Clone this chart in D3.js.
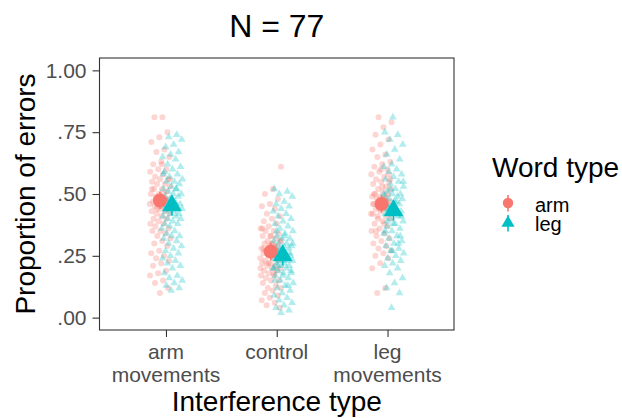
<!DOCTYPE html>
<html><head><meta charset="utf-8">
<script src="https://cdn.jsdelivr.net/npm/d3@7"></script>
<style>body{margin:0;background:#fff;} svg{display:block;} text{font-family:"Liberation Sans",Arial,sans-serif;}</style>
</head><body>
<svg id="chart" width="622" height="418"></svg>
<script>
// ---- data ----
const categories = ["arm movements", "control", "leg movements"];
const tickLabels = [["arm", "movements"], ["control"], ["leg", "movements"]];
const wordTypes = ["arm", "leg"];
const yTicks = [0, 0.25, 0.5, 0.75, 1];
const yTickLabels = [".00", ".25", ".50", ".75", "1.00"];

// individual participant proportions (77 per cell)
const armMov_arm = [0.81,0.81,0.75,0.73,0.71,0.68,0.67,0.65,0.63,0.62,0.60,0.60,0.59,0.58,0.57,0.56,0.56,0.55,0.54,0.54,0.53,0.52,0.52,0.51,0.50,0.50,0.50,0.49,0.48,0.48,0.47,0.47,0.46,0.46,0.45,0.45,0.44,0.44,0.43,0.43,0.42,0.42,0.41,0.40,0.40,0.39,0.38,0.38,0.37,0.36,0.35,0.35,0.34,0.33,0.32,0.31,0.30,0.29,0.27,0.26,0.25,0.24,0.23,0.22,0.21,0.19,0.18,0.17,0.15,0.14,0.12,0.10,0.52,0.48,0.44,0.56,0.62];
const armMov_leg = [0.74,0.73,0.72,0.70,0.69,0.67,0.66,0.65,0.64,0.62,0.61,0.60,0.59,0.58,0.57,0.56,0.55,0.55,0.54,0.53,0.52,0.52,0.51,0.50,0.50,0.49,0.49,0.48,0.48,0.47,0.47,0.46,0.46,0.45,0.45,0.44,0.44,0.43,0.43,0.42,0.42,0.41,0.41,0.40,0.40,0.39,0.38,0.38,0.37,0.36,0.35,0.34,0.33,0.33,0.32,0.31,0.30,0.29,0.28,0.27,0.26,0.25,0.24,0.23,0.22,0.21,0.20,0.18,0.17,0.16,0.15,0.14,0.13,0.12,0.11,0.58,0.52];
const control_arm = [0.61,0.52,0.50,0.48,0.46,0.45,0.44,0.42,0.41,0.40,0.39,0.38,0.37,0.36,0.35,0.35,0.34,0.33,0.33,0.32,0.31,0.31,0.30,0.30,0.29,0.29,0.28,0.28,0.27,0.27,0.26,0.26,0.25,0.25,0.24,0.24,0.23,0.23,0.22,0.22,0.21,0.21,0.20,0.20,0.19,0.19,0.18,0.17,0.17,0.16,0.15,0.15,0.14,0.13,0.12,0.12,0.11,0.10,0.09,0.08,0.07,0.06,0.05,0.04,0.30,0.28,0.25,0.22,0.20,0.18,0.27,0.24,0.33,0.36,0.29,0.26,0.31];
const control_leg = [0.52,0.51,0.50,0.49,0.47,0.46,0.45,0.44,0.43,0.42,0.41,0.40,0.39,0.38,0.37,0.36,0.35,0.34,0.33,0.32,0.32,0.31,0.30,0.30,0.29,0.29,0.28,0.28,0.27,0.27,0.26,0.26,0.25,0.25,0.24,0.24,0.23,0.23,0.22,0.22,0.21,0.21,0.20,0.20,0.19,0.18,0.18,0.17,0.16,0.15,0.14,0.13,0.12,0.11,0.10,0.09,0.08,0.07,0.06,0.05,0.04,0.03,0.02,0.25,0.23,0.21,0.19,0.17,0.15,0.13,0.28,0.30,0.33,0.35,0.26,0.24,0.20];
const legMov_arm = [0.81,0.79,0.77,0.74,0.72,0.70,0.68,0.66,0.65,0.63,0.62,0.61,0.60,0.59,0.58,0.57,0.56,0.55,0.55,0.54,0.53,0.52,0.52,0.51,0.50,0.50,0.49,0.49,0.48,0.48,0.47,0.47,0.46,0.46,0.45,0.45,0.44,0.44,0.43,0.43,0.42,0.41,0.41,0.40,0.39,0.38,0.37,0.36,0.35,0.34,0.33,0.32,0.31,0.30,0.29,0.28,0.27,0.26,0.25,0.24,0.22,0.20,0.12,0.10,0.56,0.53,0.50,0.47,0.44,0.42,0.38,0.35,0.58,0.60,0.46,0.49,0.40];
const legMov_leg = [0.81,0.75,0.74,0.72,0.70,0.68,0.66,0.64,0.62,0.61,0.60,0.59,0.58,0.57,0.56,0.55,0.54,0.53,0.52,0.51,0.50,0.50,0.49,0.49,0.48,0.48,0.47,0.46,0.46,0.45,0.45,0.44,0.44,0.43,0.42,0.42,0.41,0.40,0.39,0.38,0.37,0.36,0.35,0.34,0.33,0.32,0.31,0.30,0.29,0.28,0.27,0.26,0.25,0.24,0.23,0.22,0.21,0.20,0.18,0.16,0.14,0.12,0.10,0.04,0.50,0.47,0.44,0.41,0.38,0.35,0.30,0.52,0.55,0.43,0.39,0.33,0.27];

// summary (mean with interval) per category, per word type
const meanArm = [0.474, 0.267, 0.460];
const meanLeg = [0.453, 0.251, 0.433];
const ciArm = [0.035, 0.035, 0.035];
const ciLeg = [0.040, 0.040, 0.040];

// ---- build ----
const raw = {arm: [armMov_arm, control_arm, legMov_arm], leg: [armMov_leg, control_leg, legMov_leg]};
const colors = {arm: "#F8766D", leg: "#00BFC4"};

const svg = d3.select("#chart");
const P = {l: 99.5, r: 454, t: 58, b: 330};

const x = d3.scalePoint().domain(categories).range([P.l, P.r]).padding(0.6);
const dodge = d3.scaleBand().domain(wordTypes).range([-12, 12]);
const y = d3.scaleLinear().domain([-0.05, 1.05]).range([P.b, P.t]);

const jitterW = 10.5;
function jit(i, k) { const f = ((i + 1) * 0.6180339887 + k * 0.37) % 1; return (f - 0.5) * 2 * jitterW; }

const pts = [];
wordTypes.forEach((w, wi) => {
  categories.forEach((c, ci) => {
    raw[w][ci].forEach((v, i) => pts.push({w, c, v, i, k: ci + wi * 3}));
  });
});

const gPts = svg.append("g");
categories.forEach(c => {
  wordTypes.forEach(w => {
    const sel = pts.filter(p => p.c === c && p.w === w);
    const cx = p => x(p.c) + dodge(p.w) + dodge.bandwidth() / 2 + jit(p.i, p.k);
    if (w === "arm") {
      gPts.selectAll(null).data(sel).enter().append("circle")
        .attr("cx", cx).attr("cy", p => y(p.v)).attr("r", 3)
        .attr("fill", colors.arm).attr("fill-opacity", 0.3);
    } else {
      gPts.selectAll(null).data(sel).enter().append("path")
        .attr("d", d3.symbol(d3.symbolTriangle, 26))
        .attr("transform", p => `translate(${cx(p)},${y(p.v)})`)
        .attr("fill", colors.leg).attr("fill-opacity", 0.3);
    }
  });
});

// summary pointranges
const summ = [];
categories.forEach((c, ci) => {
  summ.push({c, w: "arm", m: meanArm[ci], e: ciArm[ci]});
  summ.push({c, w: "leg", m: meanLeg[ci], e: ciLeg[ci]});
});
const gS = svg.append("g");
summ.forEach(s => {
  const cx = x(s.c) + dodge(s.w) + dodge.bandwidth() / 2;
  gS.append("line").attr("x1", cx).attr("x2", cx)
    .attr("y1", y(s.m - s.e)).attr("y2", y(s.m + s.e))
    .attr("stroke", colors[s.w]).attr("stroke-width", 1.6);
  if (s.w === "arm") {
    gS.append("circle").attr("cx", cx).attr("cy", y(s.m)).attr("r", 7).attr("fill", colors.arm);
  } else {
    gS.append("path").attr("d", d3.symbol(d3.symbolTriangle, 170))
      .attr("transform", `translate(${cx},${y(s.m)})`).attr("fill", colors.leg);
  }
});

// panel border
svg.append("rect").attr("x", P.l).attr("y", P.t).attr("width", P.r - P.l).attr("height", P.b - P.t)
  .attr("fill", "none").attr("stroke", "#333333").attr("stroke-width", 1.1);

// y axis
const yAxis = svg.append("g").attr("transform", `translate(${P.l},0)`)
  .call(d3.axisLeft(y).tickValues(yTicks).tickFormat((d, i) => yTickLabels[i]).tickSize(7).tickPadding(6));
yAxis.select(".domain").remove();
yAxis.selectAll("line").attr("stroke", "#333333").attr("stroke-width", 1.1);
yAxis.selectAll("text").attr("fill", "#4D4D4D").style("font-size", "21px").attr("font-family", null);

// x axis
const xAxis = svg.append("g").attr("transform", `translate(0,${P.b})`)
  .call(d3.axisBottom(x).tickSize(7).tickFormat(""));
xAxis.select(".domain").remove();
xAxis.selectAll("line").attr("stroke", "#333333").attr("stroke-width", 1.1);
categories.forEach((c, ci) => {
  tickLabels[ci].forEach((t, li) => {
    svg.append("text").attr("x", x(c)).attr("y", 359 + li * 23).attr("text-anchor", "middle")
      .attr("fill", "#4D4D4D").style("font-size", "21px").text(t);
  });
});

// titles
svg.append("text").attr("x", (P.l + P.r) / 2).attr("y", 37).attr("text-anchor", "middle")
  .style("font-size", "32px").attr("fill", "#000").text("N = 77");
svg.append("text").attr("x", (P.l + P.r) / 2).attr("y", 411).attr("text-anchor", "middle")
  .style("font-size", "28px").attr("fill", "#000").text("Interference type");
svg.append("text").attr("transform", `translate(35,${(P.t + P.b) / 2}) rotate(-90)`).attr("text-anchor", "middle")
  .style("font-size", "28px").attr("fill", "#000").text("Proportion of errors");

// legend
const lg = svg.append("g");
lg.append("text").attr("x", 492).attr("y", 177).style("font-size", "28px").attr("fill", "#000").text("Word type");
const keyY = [203, 223];
const labY = [212, 231];
wordTypes.forEach((w, i) => {
  const ky = keyY[i];
  lg.append("line").attr("x1", 508).attr("x2", 508).attr("y1", ky - 8).attr("y2", ky + 8.5)
    .attr("stroke", colors[w]).attr("stroke-width", 1.6);
  if (w === "arm") lg.append("circle").attr("cx", 508).attr("cy", ky).attr("r", 5.2).attr("fill", colors.arm);
  else lg.append("path").attr("d", d3.symbol(d3.symbolTriangle, 75)).attr("transform", `translate(508,${ky})`).attr("fill", colors.leg);
  lg.append("text").attr("x", 535).attr("y", labY[i]).style("font-size", "20px").attr("fill", "#000").text(w);
});
</script>
</body></html>
